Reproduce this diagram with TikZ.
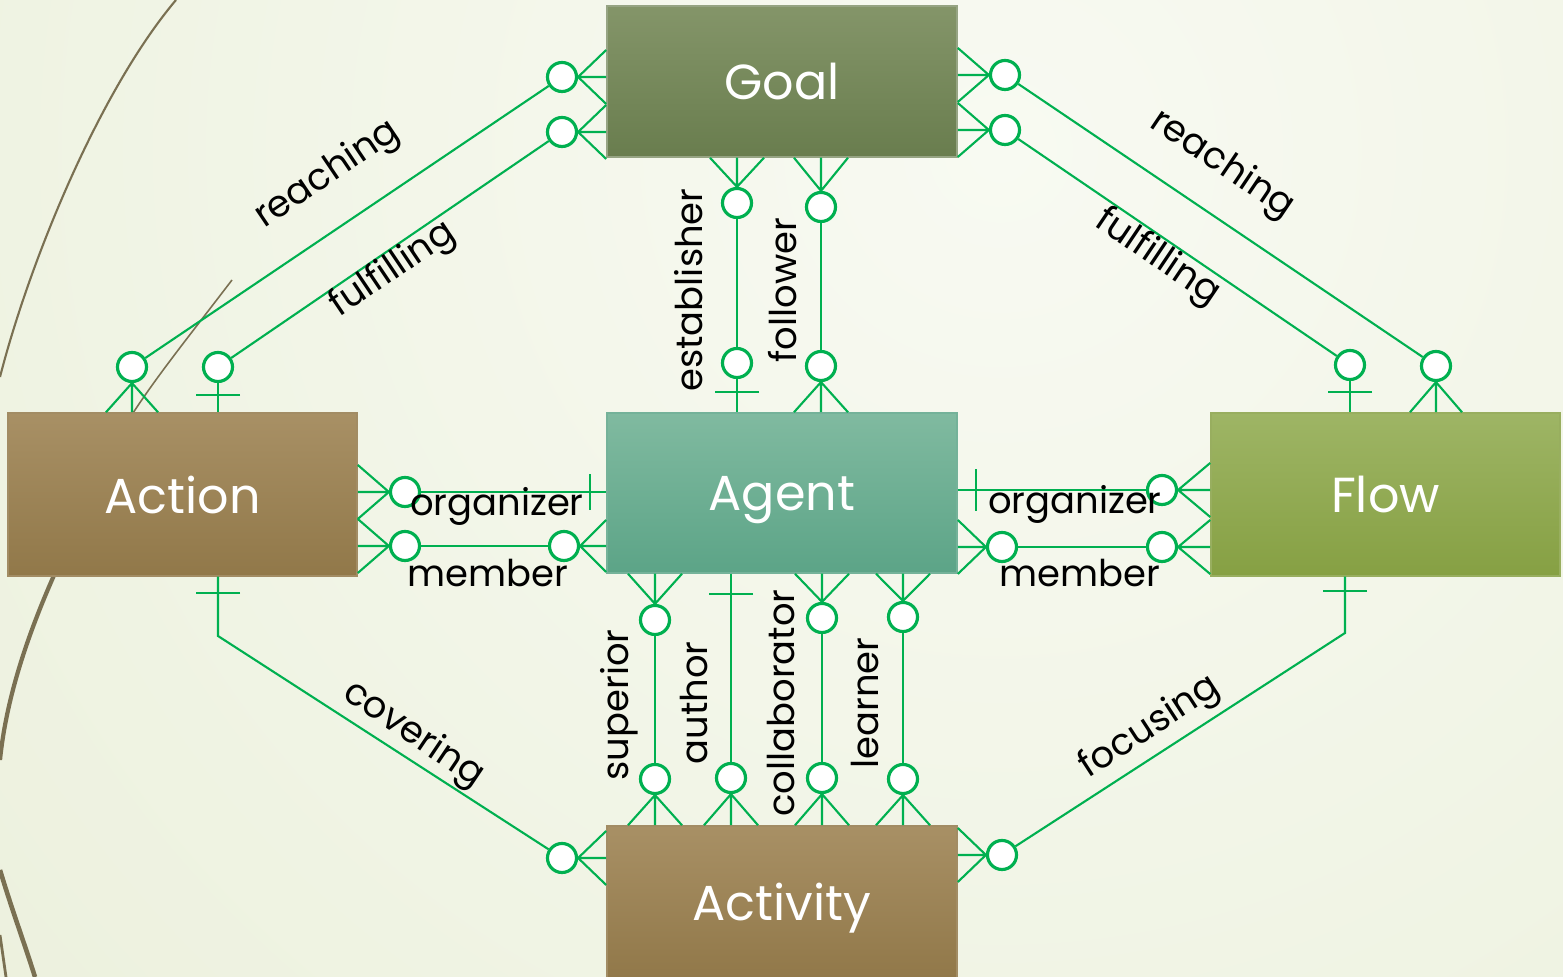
\documentclass[tikz,border=0pt]{standalone}
\usepackage{fontspec}
\setmainfont{Poppins}
\usetikzlibrary{calc}
\definecolor{erg}{HTML}{00B050}
\definecolor{bgin}{HTML}{F8FAF2}
\definecolor{bgout}{HTML}{E1E8CA}
\definecolor{deco}{HTML}{7A7052}
\definecolor{goalT}{HTML}{849569}
\definecolor{goalB}{HTML}{697D4E}
\definecolor{brT}{HTML}{A89065}
\definecolor{brB}{HTML}{917849}
\definecolor{agT}{HTML}{80BAA0}
\definecolor{agB}{HTML}{5CA487}
\definecolor{flT}{HTML}{9EB565}
\definecolor{flB}{HTML}{86A043}
\newcommand\crow[3]{\draw[conn] (#1) -- (#2) (#1) -- ($(#2)+(#3)$) (#1) -- ($(#2)-(#3)$);}
\newcommand\onebar[2]{\draw[conn] ($(#1)+(#2)$) -- ($(#1)-(#2)$);}
\begin{document}
\begin{tikzpicture}[x=0.01cm,y=-0.01cm,
  conn/.style={draw=erg,line width=0.6pt},
  opt/.style={circle,draw=erg,fill=white,line width=0.9pt,minimum size=0.29cm,inner sep=0pt},
  ent/.style={shade,text=white,font=\fontsize{14}{16}\selectfont,inner sep=0pt,line width=0.4pt,text depth=0pt},
  lab/.style={font=\fontsize{10.5}{12}\selectfont,text=black,inner sep=0pt},
  decoline/.style={draw=deco}]
\useasboundingbox (0,0) rectangle (1563,977);
\clip (0,0) rectangle (1563,977);
% background
\fill[bgout] (0,0) rectangle (1563,977);
\shade[inner color=bgin,outer color=bgout] (1000,150) circle [radius=2600];
% decorative curves
\draw[decoline,line width=0.6pt] (176,0) .. controls (100,90) and (30,260) .. (0,377);
\draw[decoline,line width=0.45pt] (232,280) .. controls (190,335) and (160,372) .. (133,413);
\draw[decoline,line width=1.2pt] (90,500) .. controls (60,560) and (10,660) .. (0,760);
\draw[decoline,line width=1.3pt] (0,870) .. controls (12,910) and (25,945) .. (35,977);
\draw[decoline,line width=0.8pt] (0,935) -- (6,977);
% entities
\node[ent,top color=goalT,bottom color=goalB,draw=goalB!70!white,minimum width=3.5cm,minimum height=1.51cm] (goal) at (782,81.5) {Goal};
\node[ent,top color=brT,bottom color=brB,draw=brB!85!white,minimum width=3.49cm,minimum height=1.63cm] (action) at (182.5,494.5) {Action};
\node[ent,top color=agT,bottom color=agB,draw=agB!85!white,minimum width=3.5cm,minimum height=1.6cm] (agent) at (782,493) {Agent};
\node[ent,top color=flT,bottom color=flB,draw=flB!85!white,minimum width=3.49cm,minimum height=1.63cm] (flow) at (1385.5,494.5) {Flow};
\node[ent,top color=brT,bottom color=brB,draw=brB!85!white,minimum width=3.5cm,minimum height=1.52cm] (activity) at (782,902) {Activity};
% optional circles
\node[opt] (gL1) at (562,77) {};
\node[opt] (gL2) at (562,132) {};
\node[opt] (gR1) at (1005,75) {};
\node[opt] (gR2) at (1005,130) {};
\node[opt] (gB1) at (737,203) {};
\node[opt] (gB2) at (821,207) {};
\node[opt] (agT1) at (737,363) {};
\node[opt] (agT2) at (821,366) {};
\node[opt] (acT1) at (132,367) {};
\node[opt] (acT2) at (218,367) {};
\node[opt] (fT1) at (1350,365) {};
\node[opt] (fT2) at (1436,366) {};
\node[opt] (acR1) at (405,492) {};
\node[opt] (acR2) at (405,546) {};
\node[opt] (agL2) at (564,546) {};
\node[opt] (agR2) at (1002,547) {};
\node[opt] (fL1) at (1162,490) {};
\node[opt] (fL2) at (1162,547) {};
\node[opt] (agB1) at (655,620) {};
\node[opt] (agB3) at (822,618) {};
\node[opt] (agB4) at (903,617) {};
\node[opt] (avT1) at (655,779) {};
\node[opt] (avT2) at (731,778) {};
\node[opt] (avT3) at (822,778) {};
\node[opt] (avT4) at (903,779) {};
\node[opt] (avL) at (562,858) {};
\node[opt] (avR) at (1002,855) {};
% crow's feet
\crow{gL1.east}{goal.west |- gL1}{0,27}
\crow{gL2.east}{goal.west |- gL2}{0,27}
\crow{gR1.west}{goal.east |- gR1}{0,27}
\crow{gR2.west}{goal.east |- gR2}{0,27}
\crow{gB1.north}{goal.south -| gB1}{27,0}
\crow{gB2.north}{goal.south -| gB2}{27,0}
\crow{agT2.south}{agent.north -| agT2}{27,0}
\crow{acT1.south}{action.north -| acT1}{26,0}
\crow{fT2.south}{flow.north -| fT2}{26,0}
\crow{acR1.west}{action.east |- acR1}{0,27}
\crow{acR2.west}{action.east |- acR2}{0,27}
\crow{agL2.east}{agent.west |- agL2}{0,26}
\crow{agR2.west}{agent.east |- agR2}{0,27}
\crow{fL1.east}{flow.west |- fL1}{0,27}
\crow{fL2.east}{flow.west |- fL2}{0,27}
\crow{agB1.north}{agent.south -| agB1}{27,0}
\crow{agB3.north}{agent.south -| agB3}{27,0}
\crow{agB4.north}{agent.south -| agB4}{27,0}
\crow{avT1.south}{activity.north -| avT1}{27,0}
\crow{avT2.south}{activity.north -| avT2}{27,0}
\crow{avT3.south}{activity.north -| avT3}{27,0}
\crow{avT4.south}{activity.north -| avT4}{27,0}
\crow{avL.east}{activity.west |- avL}{0,27}
\crow{avR.west}{activity.east |- avR}{0,27}
% single-side lines with bars
\draw[conn] (agT1) -- (agent.north -| agT1);
\onebar{$(agent.north -| agT1)+(0,-20)$}{22,0}
\draw[conn] (acT2) -- (action.north -| acT2);
\onebar{$(action.north -| acT2)+(0,-17)$}{22,0}
\draw[conn] (fT1) -- (flow.north -| fT1);
\onebar{$(flow.north -| fT1)+(0,-20)$}{22,0}
\draw[conn] (acR1) -- (agent.west |- acR1);
\onebar{$(agent.west |- acR1)+(-16,0)$}{0,18}
\draw[conn] (agent.east |- fL1) -- (fL1);
\onebar{$(agent.east |- fL1)+(18,0)$}{0,21}
\draw[conn] (agent.south -| avT2) -- (avT2);
\onebar{$(agent.south -| avT2)+(0,20)$}{22,0}
% relationship lines
\draw[conn] (acT1) -- (gL1);
\draw[conn] (acT2) -- (gL2);
\draw[conn] (gR1) -- (fT2);
\draw[conn] (gR2) -- (fT1);
\draw[conn] (gB1) -- (agT1);
\draw[conn] (gB2) -- (agT2);
\draw[conn] (acR2) -- (agL2);
\draw[conn] (agR2) -- (fL2);
\draw[conn] (agB1) -- (avT1);
\draw[conn] (agB3) -- (avT3);
\draw[conn] (agB4) -- (avT4);
\coordinate (cvk) at (218,636);
\coordinate (fck) at (1345,633);
\draw[conn] (action.south -| cvk) -- (cvk) -- (avL);
\onebar{$(action.south -| cvk)+(0,16)$}{22,0}
\draw[conn] (flow.south -| fck) -- (fck) -- (avR);
\onebar{$(flow.south -| fck)+(0,14)$}{22,0}
% labels
\node[lab,rotate=34] (l1) at (328,175) {reaching};
\node[lab,rotate=34] (l2) at (393,270) {fulfilling};
\node[lab,rotate=-34] (l3) at (1222,165) {reaching};
\node[lab,rotate=-34] (l4) at (1157,258) {fulfilling};
\node[lab,rotate=90] (l5) at (689,290) {establisher};
\node[lab,rotate=90] (l6) at (783,290) {follower};
\node[lab] (l7) at (497,506) {organizer};
\node[lab] (l8) at (488,573) {member};
\node[lab] (l9) at (1075,504) {organizer};
\node[lab] (l10) at (1080,573) {member};
\node[lab,rotate=90] (l11) at (619,705) {superior};
\node[lab,rotate=90] (l12) at (694,703) {author};
\node[lab,rotate=90] (l13) at (781,703) {collaborator};
\node[lab,rotate=90] (l14) at (865,703) {learner};
\node[lab,rotate=-34] (l15) at (413,735) {covering};
\node[lab,rotate=33] (l16) at (1150,728) {focusing};
\end{tikzpicture}
\end{document}
